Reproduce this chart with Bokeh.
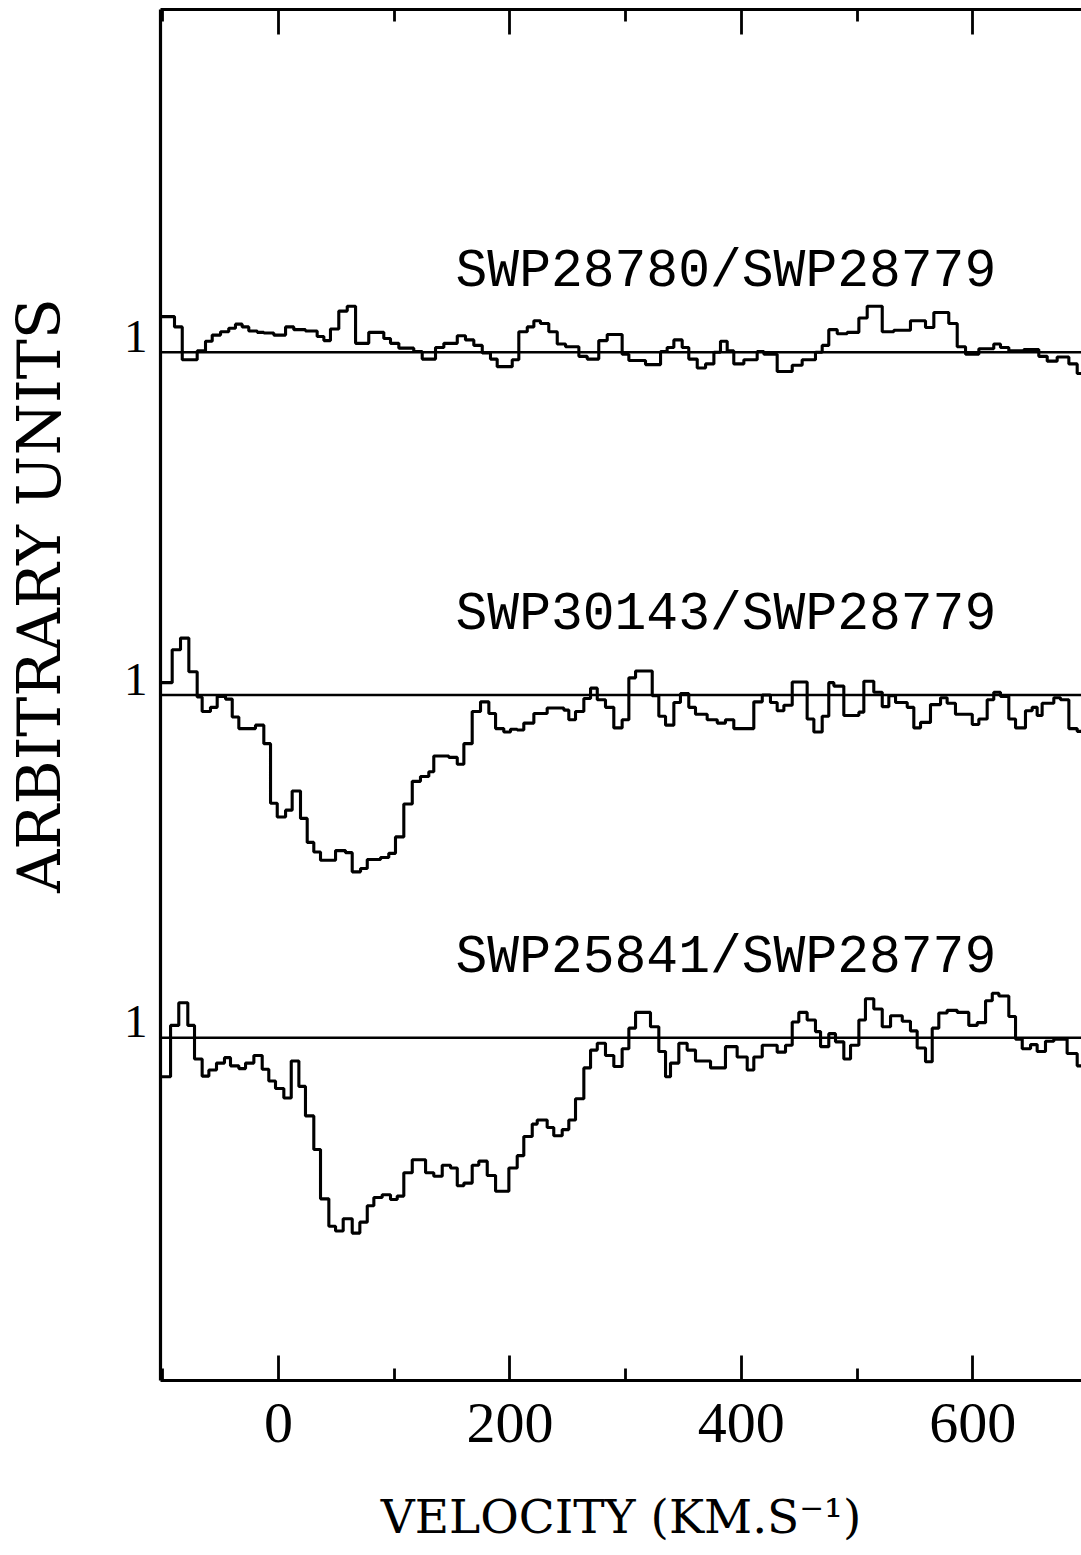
import numpy as np
from bokeh.plotting import figure
from bokeh.layouts import row
from bokeh.models import (Range1d, LinearAxis, FixedTicker, Span, CustomJSTickFormatter,
                          CustomLabelingPolicy)
from bokeh.core.properties import value
from bokeh.embed import file_html
from bokeh.resources import INLINE

# ---------------- data (velocity in km/s = start of each bin, relative flux) -------------
top_vel = [-102, -89.9, -83.2, -70.3, -63.1, -57.3, -50.1, -43.0, -37.2, -31.4, -25.7, -18.4,
           -12.7, -4.1, 6.1, 13.2, 23.3, 33.4, 39.2, 44.9, 52.1, 59.4, 66.6, 78.0, 91.0, 96.8,
           104.0, 116.9, 124.2, 135.7, 142.9, 154.5, 161.6, 168.8, 176.1, 183.2, 189.0, 202.0,
           207.7, 215.0, 220.7, 226.4, 233.6, 240.9, 248.1, 259.6, 266.8, 276.8, 284.1, 297.0,
           302.8, 317.2, 330.2, 335.9, 341.7, 348.9, 354.6, 361.9, 369.1, 376.3, 382.0, 387.8,
           393.5, 402.2, 413.7, 419.5, 431.0, 444.0, 452.6, 464.1, 469.9, 475.6, 482.9, 491.5,
           501.6, 508.8, 521.8, 531.8, 546.2, 559.2, 566.4, 579.3, 586.6, 593.8, 605.3, 618.2,
           624.0, 631.2, 644.2, 657.1, 664.4, 673.0, 683.1, 690.3]
top_flux = [1.052, 1.037, 0.989, 1.002, 1.016, 1.025, 1.030, 1.035, 1.041, 1.037,
            1.031, 1.029, 1.028, 1.025, 1.037, 1.033, 1.031, 1.023, 1.017, 1.034,
            1.060, 1.067, 1.013, 1.029, 1.020, 1.013, 1.006, 1.001, 0.990, 1.007,
            1.013, 1.024, 1.018, 1.010, 0.999, 0.990, 0.979, 0.989, 1.030, 1.037,
            1.046, 1.042, 1.030, 1.012, 1.008, 0.994, 0.990,
            1.017, 1.026, 0.997, 0.988, 0.982, 1.001, 1.007, 1.018, 1.007, 0.990,
            0.977, 0.983, 1.000, 1.016, 1.002, 0.983, 0.989, 1.001, 0.997, 0.972,
            0.981, 0.989, 1.000, 1.010, 1.033, 1.027, 1.029, 1.050, 1.067, 1.030,
            1.032, 1.046, 1.036, 1.058, 1.042, 1.008, 0.997, 1.005, 1.012, 1.007,
            1.002, 1.004, 0.994, 0.987, 0.993, 0.983, 0.969]

mid_vel = [-102, -91.9, -84.7, -77.5, -70.3, -66.0, -58.8, -53.0, -45.8, -40.0, -34.3, -19.9,
           -12.7, -6.9, -1.1, 6.1, 11.8, 19.0, 24.8, 30.5, 36.3, 49.3, 57.9, 63.7, 70.9, 76.7,
           88.2, 95.3, 101.1, 108.3, 115.6, 122.7, 129.9, 134.2, 147.2, 154.5, 160.2, 167.4,
           174.6, 181.8, 187.6, 194.7, 200.5, 206.3, 212.0, 220.7, 232.2, 246.6, 250.9, 256.7,
           263.9, 269.7, 275.5, 282.6, 289.8, 297.0, 302.8, 308.6, 323.0, 328.7, 334.5, 341.7,
           347.4, 354.6, 360.4, 370.5, 379.2, 386.3, 393.5, 410.8, 418.1, 425.2, 431.0, 436.8,
           444.0, 456.9, 462.7, 469.9, 475.6, 480.0, 488.6, 501.6, 505.9, 514.5, 521.8, 527.5,
           533.3, 543.4, 549.1, 554.9, 563.5, 572.2, 577.9, 585.1, 599.6, 605.3, 612.5, 618.2,
           624.0, 631.2, 637.0, 645.6, 651.4, 655.7, 660.0, 670.1, 675.9, 683.1, 690.3]
mid_flux = [1.018, 1.066, 1.083, 1.034, 0.997, 0.976, 0.982, 0.998, 0.994, 0.968, 0.951, 0.956,
            0.929, 0.842, 0.822, 0.832, 0.860, 0.820, 0.785, 0.771, 0.759, 0.773, 0.770, 0.742,
            0.747, 0.760, 0.763, 0.769, 0.793, 0.841, 0.874, 0.881, 0.888, 0.911, 0.909, 0.899,
            0.929, 0.976, 0.990, 0.973, 0.951, 0.946, 0.950, 0.949, 0.959, 0.973, 0.981, 0.978,
            0.964, 0.976, 0.995, 1.010, 0.993, 0.982, 0.952, 0.964, 1.025, 1.035, 0.999, 0.969,
            0.956, 0.989, 1.002, 0.982, 0.972, 0.964, 0.959, 0.964, 0.951, 0.990, 1.000, 0.989,
            0.977, 0.985, 1.019, 0.965, 0.946, 0.969, 1.018, 1.013, 0.970, 0.975, 1.020, 1.004,
            0.983, 0.999, 0.989, 0.982, 0.952, 0.960, 0.986, 0.996, 0.988, 0.972, 0.957, 0.965,
            0.993, 1.004, 0.998, 0.965, 0.952, 0.977, 0.982, 0.970, 0.988, 0.996, 0.993, 0.951,
            0.947]

bot_vel = [-102, -93.3, -86.2, -78.4, -72.6, -66.0, -60.2, -53.6, -46.7, -41.5, -34.3, -28.5,
           -21.3, -14.1, -8.4, -2.6, 4.6, 11.0, 17.6, 23.3, 30.5, 36.3, 43.5, 49.3, 55.9, 63.7,
           70.3, 76.7, 82.4, 89.6, 96.8, 102.6, 108.3, 115.6, 127.1, 134.2, 141.5, 148.7, 154.5,
           160.2, 167.4, 173.1, 180.4, 187.6, 199.1, 206.3, 212.0, 219.3, 223.6, 232.2, 237.9,
           245.2, 250.9, 256.7, 263.9, 269.7, 275.5, 282.6, 289.8, 297.0, 302.8, 308.6, 321.5,
           328.7, 334.5, 338.8, 346.0, 353.2, 360.4, 373.4, 386.3, 396.4, 405.1, 410.8, 418.1,
           431.0, 438.2, 444.0, 449.7, 456.9, 464.1, 468.5, 475.6, 481.4, 488.6, 494.4, 501.6,
           507.3, 514.5, 521.8, 529.0, 539.1, 546.2, 552.0, 559.2, 565.0, 570.7, 577.9, 586.6,
           596.6, 603.9, 611.1, 616.9, 622.6, 631.2, 637.0, 642.8, 650.0, 655.7, 662.9, 670.1,
           681.6, 690.3]
bot_flux = [0.943, 1.018, 1.051, 1.018, 0.969, 0.944, 0.953, 0.963, 0.971, 0.959, 0.955, 0.963,
            0.974, 0.954, 0.937, 0.926, 0.912, 0.966, 0.929, 0.886, 0.837, 0.765, 0.725, 0.718,
            0.736, 0.715, 0.731, 0.755, 0.767, 0.771, 0.764, 0.769, 0.803, 0.822, 0.803, 0.798,
            0.814, 0.810, 0.784, 0.788, 0.814, 0.820, 0.799, 0.776, 0.810, 0.828, 0.856, 0.874,
            0.880, 0.869, 0.857, 0.866, 0.880, 0.911, 0.956, 0.982, 0.992, 0.974, 0.958, 0.984,
            1.014, 1.037, 1.016, 0.980, 0.943, 0.963, 0.992, 0.982, 0.966, 0.956, 0.987, 0.972,
            0.953, 0.972, 0.989, 0.979, 0.989, 1.023, 1.037, 1.026, 1.009, 0.987, 1.006, 0.994,
            0.969, 0.989, 1.026, 1.057, 1.042, 1.016, 1.032, 1.024, 1.010, 0.985, 0.965, 1.014,
            1.036, 1.040, 1.037, 1.018, 1.022, 1.054, 1.065, 1.061, 1.031, 0.998, 0.984, 0.990,
            0.980, 0.995, 0.998, 0.977, 0.959]

labels = ["SWP28780/SWP28779", "SWP30143/SWP28779", "SWP25841/SWP28779"]
offsets = [1.0, 0.5, 0.0]          # vertical shift of each ratio spectrum
x_major = [0, 200, 400, 600]
x_minor = [-100, 100, 300, 500, 700]
y_title = "ARBITRARY UNITS"
x_title = "VELOCITY (KM.S\u207b\u00b9)"

# ---------------- layout constants ----------------
TOTAL_W, TOTAL_H = 1081, 1553
LAB_W = 100                    # strip holding the vertical title
FRAME_LEFT, FRAME_TOP, FRAME_BOTTOM = 160, 9, 1380
X_START = -102.0
PX_PER_KMS = 1.157
X_END = X_START + (TOTAL_W - FRAME_LEFT) / PX_PER_KMS
Y_START, Y_END = 0.5, 2.5
LABEL_RAISE = 0.023
LABEL_X = 153.0
LABEL_DY = 0.117
YTITLE_X, YTITLE_Y = 38, 1.645

y_range = Range1d(Y_START, Y_END)

p = figure(width=TOTAL_W - LAB_W, height=TOTAL_H,
           x_range=Range1d(X_START, X_END), y_range=y_range,
           output_backend="svg", toolbar_location=None,
           x_axis_location=None, y_axis_location=None,
           min_border_left=FRAME_LEFT - LAB_W, min_border_right=0,
           min_border_top=FRAME_TOP, min_border_bottom=TOTAL_H - FRAME_BOTTOM)
p.outline_line_color = None
p.grid.visible = False
p.background_fill_color = "white"
p.border_fill_color = "white"

def style_x(ax):
    ax.axis_line_width = 3.2
    ax.axis_line_color = "black"
    ax.major_tick_in = 25
    ax.major_tick_out = 0
    ax.minor_tick_in = 12
    ax.minor_tick_out = 0
    ax.major_tick_line_width = 2.8
    ax.minor_tick_line_width = 2.8
    ax.major_tick_line_color = "black"
    ax.minor_tick_line_color = "black"

bottom = LinearAxis(ticker=FixedTicker(ticks=x_major, minor_ticks=x_minor), axis_label=x_title)
style_x(bottom)
bottom.major_label_text_font = "Liberation Serif"
bottom.major_label_text_font_size = "58px"
bottom.major_label_text_color = "black"
bottom.major_label_standoff = 23
bottom.axis_label_text_font = "DejaVu Serif"
bottom.axis_label_text_font_size = "47px"
bottom.axis_label_text_font_style = "normal"
bottom.axis_label_text_color = "black"
bottom.axis_label_standoff = 44
p.add_layout(bottom, "below")

top = LinearAxis(ticker=FixedTicker(ticks=x_major, minor_ticks=x_minor),
                 major_label_policy=CustomLabelingPolicy(code="return []"))
style_x(top)
top.major_label_text_font_size = "1px"
top.major_label_standoff = 0
p.add_layout(top, "above")

left = LinearAxis(ticker=FixedTicker(ticks=[o + 1.0 + LABEL_RAISE for o in offsets]),
                  formatter=CustomJSTickFormatter(code="return '1';"))
left.axis_line_width = 3.2
left.axis_line_color = "black"
left.major_tick_line_color = None
left.minor_tick_line_color = None
left.major_label_text_font = "Liberation Serif"
left.major_label_text_font_size = "47px"
left.major_label_text_color = "black"
left.major_label_standoff = 7
p.add_layout(left, "left")

# continuum lines
for o in offsets:
    p.add_layout(Span(location=1.0 + o, dimension="width", line_color="black", line_width=2.6))

# spectra
for vel, flux, o in [(top_vel, top_flux, offsets[0]),
                     (mid_vel, mid_flux, offsets[1]),
                     (bot_vel, bot_flux, offsets[2])]:
    xs = list(vel) + [X_END + 10]
    ys = [f + o for f in flux] + [flux[-1] + o]
    p.step(x=xs, y=ys, mode="after", line_color="black", line_width=3.1)

# spectrum names
p.text(x=[LABEL_X] * 3, y=[1.0 + o + LABEL_DY for o in offsets], text=labels,
       text_font=value("Liberation Mono"), text_font_size="53px",
       text_align="left", text_baseline="alphabetic", text_color="black")

# strip on the left holding the vertical axis title
lab = figure(width=LAB_W, height=TOTAL_H, x_range=Range1d(0, LAB_W), y_range=y_range,
             output_backend="svg", toolbar_location=None,
             x_axis_location=None, y_axis_location=None,
             min_border_left=0, min_border_right=0,
             min_border_top=FRAME_TOP, min_border_bottom=TOTAL_H - FRAME_BOTTOM)
lab.outline_line_color = None
lab.grid.visible = False
lab.text(x=[YTITLE_X], y=[YTITLE_Y], text=[y_title], angle=np.pi / 2,
         text_font=value("DejaVu Serif"), text_font_size="60px",
         text_align="center", text_baseline="middle", text_color="black")

layout = row(lab, p, spacing=0)
open("out.html", "w").write(file_html(layout, INLINE))
